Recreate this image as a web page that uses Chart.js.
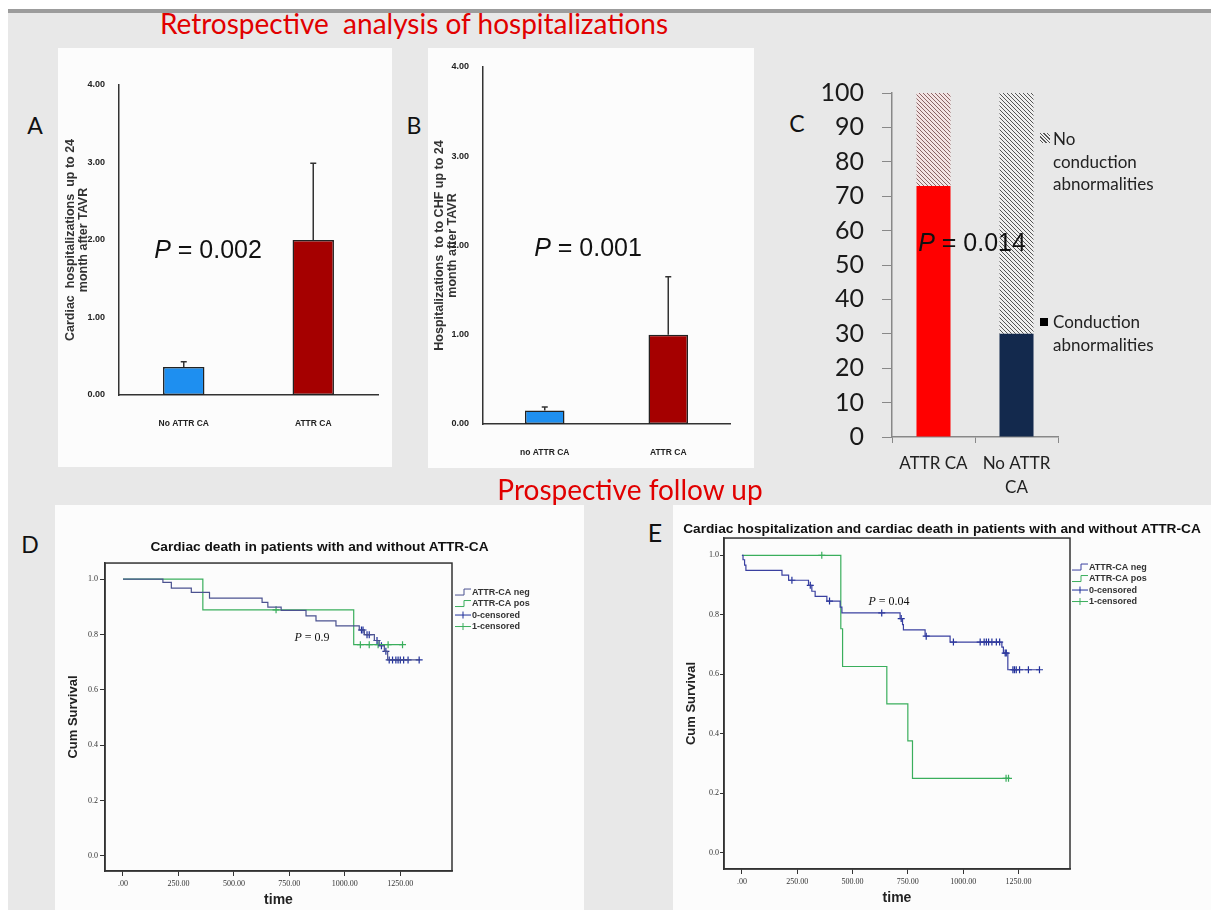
<!DOCTYPE html>
<html>
<head>
<meta charset="utf-8">
<script src="https://cdn.jsdelivr.net/npm/chart.js@4.4.1/dist/chart.umd.min.js"></script>
<style>
  body { margin: 0; background: #fff; }
  #page { position: relative; width: 1211px; height: 910px; overflow: hidden; background: #fff; }
  #bg { position: absolute; left: 8px; top: 9px; right: 0; bottom: 0; background: #e8e8e8; border-top: 4px solid #9c9c9c; }
  .panel { position: absolute; background: #fcfcfc; }
  canvas { position: absolute; }
  .t { position: absolute; white-space: pre; transform: translate(-50%, -50%); line-height: 1; }
  .red { color: #e10000; font-family: Lato, 'Open Sans', sans-serif; font-size: 28px; }
  .big { color: #111; font-family: Lato, sans-serif; font-size: 23px; }
  .pv { color: #111; font-family: 'Liberation Sans', Arial, sans-serif; font-size: 25px; }
  .pv i, .ps i { font-style: italic; }
  .ps { color: #111; font-family: 'Liberation Serif', serif; font-size: 12px; }
  .leg { position: absolute; font-family: Lato, sans-serif; font-size: 17px; line-height: 22.5px; color: #222; }
  .sw { position: absolute; }
</style>
</head>
<body>
<div id="page">
  <div id="bg"></div>
  <div class="panel" style="left:58px;top:48px;width:334px;height:419px"></div>
  <div class="panel" style="left:428px;top:48px;width:326px;height:420px"></div>
  <div class="panel" style="left:55px;top:505px;width:529px;height:405px"></div>
  <div class="panel" style="left:673px;top:505px;width:538px;height:405px"></div>

  <canvas id="cA" width="334" height="419" style="left:58px;top:48px"></canvas>
  <canvas id="cB" width="326" height="420" style="left:428px;top:48px"></canvas>
  <canvas id="cC" width="260" height="445" style="left:810px;top:60px"></canvas>
  <canvas id="cD" width="529" height="405" style="left:55px;top:505px"></canvas>
  <canvas id="cE" width="538" height="405" style="left:673px;top:505px"></canvas>

  <div class="t red" style="left:414px;top:23px">Retrospective  analysis of hospitalizations</div>
  <div class="t red" style="left:630px;top:489px">Prospective follow up</div>

  <div class="t big" style="left:35px;top:125px">A</div>
  <div class="t big" style="left:414px;top:125px">B</div>
  <div class="t big" style="left:797px;top:123px">C</div>
  <div class="t big" style="left:30px;top:544px">D</div>
  <div class="t big" style="left:655px;top:532px;font-size:25px">E</div>

  <div class="t pv" style="left:208px;top:249px"><i>P</i> = 0.002</div>
  <div class="t pv" style="left:588px;top:247px"><i>P</i> = 0.001</div>
  <div class="t pv" style="left:972px;top:242px"><i>P</i> = 0.014</div>
  <div class="t ps" style="left:312px;top:637px"><i>P</i> = 0.9</div>
  <div class="t ps" style="left:889px;top:601px"><i>P</i> = 0.04</div>

  <div class="sw" style="left:1040px;top:133px;width:10px;height:10px;background:repeating-linear-gradient(45deg,#eee 0 1.5px,#555 1.5px 2.5px)"></div>
  <div class="leg" style="left:1053px;top:128px">No<br>conduction<br>abnormalities</div>
  <div class="sw" style="left:1040px;top:318px;width:8px;height:8px;background:#000"></div>
  <div class="leg" style="left:1053px;top:311px">Conduction<br>abnormalities</div>
</div>

<script>
// retrospective bars (panel A and B)
const hospCats = ['No ATTR CA', 'ATTR CA'];
const hospMean = [0.36, 2.0];
const hospUpper = [0.43, 2.99];
const chfCats = ['no ATTR CA', 'ATTR CA'];
const chfMean = [0.15, 1.0];
const chfUpper = [0.19, 1.65];
const countTicks = [0, 1, 2, 3, 4];

// conduction abnormalities (panel C), percent
const condCats = ['ATTR CA', ['No ATTR', 'CA']];
const condYes = [73, 30];
const condNo = [27, 70];
const pctTicks = [0, 10, 20, 30, 40, 50, 60, 70, 80, 90, 100];

// Kaplan-Meier, cardiac death (panel D)
const dNegT = [0, 180, 218, 308, 390, 627, 653, 713, 825, 870, 960, 1065, 1088, 1133, 1155, 1178, 1193, 1335];
const dNegS = [1.0, 0.988, 0.967, 0.952, 0.931, 0.916, 0.899, 0.887, 0.867, 0.849, 0.831, 0.816, 0.799, 0.778, 0.759, 0.739, 0.708, 0.708];
const dNegCens = [1075, 1082, 1100, 1110, 1145, 1165, 1185, 1200, 1215, 1230, 1240, 1250, 1265, 1285, 1335];
const dPosT = [0, 360, 1040, 1260];
const dPosS = [1.0, 0.889, 0.763, 0.763];
const dPosCens = [690, 1070, 1110, 1150, 1195, 1260];

// Kaplan-Meier, cardiac hospitalization and death (panel E)
const eNegT = [0, 5, 12, 18, 181, 211, 301, 316, 331, 384, 444, 452, 715, 726, 730, 828, 941, 1175, 1182, 1202, 1345];
const eNegS = [1.0, 0.985, 0.967, 0.949, 0.933, 0.916, 0.899, 0.879, 0.862, 0.846, 0.826, 0.806, 0.787, 0.767, 0.749, 0.728, 0.708, 0.691, 0.671, 0.615, 0.615];
const eNegCens = [226, 309, 396, 632, 720, 833, 956, 1077, 1095, 1105, 1115, 1130, 1150, 1165, 1190, 1195, 1225, 1232, 1240, 1255, 1295, 1345];
const ePosT = [0, 447, 455, 655, 750, 771, 1212];
const ePosS = [1.0, 0.753, 0.626, 0.5, 0.376, 0.25, 0.25];
const ePosCens = [361, 1194, 1205];

const timeTicks = [0, 250, 500, 750, 1000, 1250];
const survTicks = [0, 0.2, 0.4, 0.6, 0.8, 1.0];

const NARROW = "'Liberation Sans Narrow', 'Liberation Sans', Arial, sans-serif";
const SANS = "'Liberation Sans', Arial, sans-serif";
const SERIF = "'Liberation Serif', 'DejaVu Serif', serif";

Chart.defaults.animation = false;
Chart.defaults.responsive = false;
Chart.defaults.plugins.legend.display = false;
Chart.defaults.plugins.tooltip.enabled = false;

const errBars = {
  id: 'errBars',
  afterDatasetsDraw(chart, args, opts) {
    const meta = chart.getDatasetMeta(0), y = chart.scales.y, ctx = chart.ctx;
    ctx.save();
    ctx.strokeStyle = '#333';
    ctx.lineWidth = 1.5;
    meta.data.forEach((bar, i) => {
      const top = y.getPixelForValue(opts.upper[i]);
      ctx.beginPath();
      ctx.moveTo(bar.x, bar.y);
      ctx.lineTo(bar.x, top);
      ctx.moveTo(bar.x - 3, top);
      ctx.lineTo(bar.x + 3, top);
      ctx.stroke();
    });
    ctx.restore();
  }
};

const frame = {
  id: 'frame',
  afterDraw(chart) {
    const a = chart.chartArea, ctx = chart.ctx;
    ctx.save();
    ctx.strokeStyle = '#333';
    ctx.lineWidth = 1.5;
    ctx.strokeRect(a.left, a.top, a.width, a.height);
    ctx.restore();
  }
};

const kmLegend = {
  id: 'kmLegend',
  afterDraw(chart, args, o) {
    const ctx = chart.ctx, a = chart.chartArea;
    let x = a.right + o.dx, y = a.top + o.dy;
    ctx.save();
    ctx.font = 'bold 9px ' + SANS;
    ctx.textBaseline = 'middle';
    chart.data.datasets.forEach(ds => {
      ctx.strokeStyle = ds.borderColor;
      ctx.lineWidth = 1;
      ctx.beginPath();
      if (ds.showLine === false) {
        ctx.moveTo(x, y); ctx.lineTo(x + 16, y);
        ctx.moveTo(x + 8, y - 3.5); ctx.lineTo(x + 8, y + 3.5);
      } else {
        ctx.moveTo(x, y + 3); ctx.lineTo(x + 9, y + 3);
        ctx.lineTo(x + 9, y - 3); ctx.lineTo(x + 16, y - 3);
      }
      ctx.stroke();
      ctx.fillStyle = '#333';
      ctx.fillText(ds.label, x + 17, y);
      y += 11.5;
    });
    ctx.restore();
  }
};

function fixTicks(list) {
  return scale => { scale.ticks = list.map(v => ({ value: v })); };
}

function barPanel(id, cats, mean, upper, title, pad, yW, xH, titlePad) {
  new Chart(document.getElementById(id), {
    type: 'bar',
    data: {
      labels: cats,
      datasets: [{
        data: mean,
        backgroundColor: ['#1e8ff0', '#a50000'],
        borderColor: '#222',
        borderWidth: 1.5,
        borderSkipped: false,
        barPercentage: 0.32,
        categoryPercentage: 1
      }]
    },
    options: {
      layout: { padding: pad },
      plugins: { errBars: { upper: upper } },
      scales: {
        x: {
          grid: { display: false },
          border: { color: '#333', width: 1.5 },
          ticks: { color: '#222', padding: 16, font: { family: NARROW, size: 8.5, weight: 'bold' } },
          afterFit: s => { s.height = xH; }
        },
        y: {
          min: 0, max: 4,
          afterBuildTicks: fixTicks(countTicks),
          grid: { display: false },
          border: { color: '#333', width: 1.5 },
          ticks: { color: '#222', padding: 6, font: { family: NARROW, size: 9, weight: 'bold' },
                   callback: v => v.toFixed(2) },
          title: { display: true, text: title, color: '#333',
                   font: { family: SANS, size: 12.5, weight: 'bold', lineHeight: 1.05 },
                   padding: { top: titlePad, bottom: 0 } },
          afterFit: s => { s.width = yW; }
        }
      }
    },
    plugins: [errBars]
  });
}

barPanel('cA', hospCats, hospMean, hospUpper,
  ['Cardiac  hospitalizations  up to 24', 'month after TAVR'],
  { top: 37, right: 14, left: 0, bottom: 0 }, 61, 72, 5.5);
barPanel('cB', chfCats, chfMean, chfUpper,
  ['Hospitalizations  to to CHF up to 24', 'month after TAVR'],
  { top: 19, right: 24, left: 0, bottom: 0 }, 55, 44, 4.5);

function hatch(bg, fg) {
  const c = document.createElement('canvas');
  c.width = 4; c.height = 4;
  const g = c.getContext('2d');
  g.fillStyle = bg; g.fillRect(0, 0, 4, 4);
  g.strokeStyle = fg; g.lineWidth = 1;
  g.beginPath();
  g.moveTo(-1, -1); g.lineTo(5, 5);
  g.moveTo(-1, 3); g.lineTo(1, 5);
  g.moveTo(3, -1); g.lineTo(5, 1);
  g.stroke();
  return g.createPattern(c, 'repeat');
}

new Chart(document.getElementById('cC'), {
  type: 'bar',
  data: {
    labels: condCats,
    datasets: [
      { label: 'Conduction abnormalities', data: condYes, backgroundColor: ['#ff0000', '#13294d'],
        barPercentage: 0.41, categoryPercentage: 1 },
      { label: 'No conduction abnormalities', data: condNo,
        backgroundColor: [hatch('#f4e4e4', '#8a6565'), hatch('#efefef', '#555555')],
        barPercentage: 0.41, categoryPercentage: 1 }
    ]
  },
  options: {
    layout: { padding: { top: 21, right: 12, left: 0, bottom: 0 } },
    scales: {
      x: {
        stacked: true,
        grid: { display: true, drawOnChartArea: false, tickLength: 6, color: '#888', offset: true },
        border: { color: '#888', width: 1.5 },
        ticks: { color: '#222', padding: 8, font: { family: 'Lato', size: 17, lineHeight: 1.45 } },
        afterFit: s => { s.height = 68; }
      },
      y: {
        stacked: true, min: 0, max: 100,
        afterBuildTicks: fixTicks(pctTicks),
        grid: { display: true, drawOnChartArea: false, tickLength: 10, color: '#888' },
        border: { color: '#888', width: 1.5 },
        ticks: { color: '#1a1a1a', padding: 18, font: { family: 'Lato', size: 25 } },
        afterFit: s => { s.width = 82; }
      }
    }
  }
});

function steps(t, s) {
  return t.map((x, i) => ({ x: x, y: s[i] }));
}
function survAt(t, s, x) {
  let v = s[0];
  for (let i = 0; i < t.length; i++) if (t[i] <= x) v = s[i];
  return v;
}
function marks(t, s, cens) {
  return cens.map(x => ({ x: x, y: survAt(t, s, x) }));
}

function kmPanel(id, title, negT, negS, negC, posT, posS, posC, negColor, cfg) {
  const green = '#3aae5c';
  new Chart(document.getElementById(id), {
    type: 'line',
    data: {
      datasets: [
        { label: 'ATTR-CA neg', data: steps(negT, negS), borderColor: negColor, borderWidth: 1.2,
          stepped: 'before', pointRadius: 0, fill: false },
        { label: 'ATTR-CA pos', data: steps(posT, posS), borderColor: green, borderWidth: 1.2,
          stepped: 'before', pointRadius: 0, fill: false },
        { label: '0-censored', data: marks(negT, negS, negC), showLine: false, borderColor: '#1f2f9a',
          pointStyle: 'cross', pointRadius: 3.5, pointBorderWidth: 1.2, pointBorderColor: '#1f2f9a' },
        { label: '1-censored', data: marks(posT, posS, posC), showLine: false, borderColor: green,
          pointStyle: 'cross', pointRadius: 3.5, pointBorderWidth: 1.2, pointBorderColor: green }
      ]
    },
    options: {
      layout: { padding: 0 },
      plugins: {
        title: { display: true, text: title, color: '#111',
                 font: { family: SANS, size: 13.7, weight: 'bold', lineHeight: 1.2 },
                 padding: { top: cfg.titleTop, bottom: cfg.titleBottom } },
        kmLegend: { dx: cfg.legDx, dy: 29 }
      },
      scales: {
        x: {
          type: 'linear', min: -81, max: 1483,
          afterBuildTicks: fixTicks(timeTicks),
          grid: { display: true, drawOnChartArea: false, tickLength: 5, color: '#333' },
          border: { color: '#333', width: 1.5 },
          ticks: { color: '#333', padding: 3, font: { family: SERIF, size: 8 },
                   callback: v => v === 0 ? '.00' : v.toFixed(2) },
          title: { display: true, text: 'time', color: '#222',
                   font: { family: SANS, size: 14, weight: 'bold' },
                   padding: { top: 0, bottom: cfg.timePad } },
          afterFit: s => { s.height = cfg.xH; }
        },
        y: {
          min: -0.055, max: 1.058,
          afterBuildTicks: fixTicks(survTicks),
          grid: { display: true, drawOnChartArea: false, tickLength: cfg.yTick, color: '#333' },
          border: { color: '#333', width: 1.5 },
          ticks: { color: '#333', padding: cfg.yPad, font: { family: SERIF, size: 8 },
                   callback: v => v.toFixed(1) },
          title: { display: true, text: 'Cum Survival', color: '#222',
                   font: { family: SANS, size: 13, weight: 'bold', lineHeight: 1.2 },
                   padding: { top: cfg.cumPad, bottom: 0 } },
          afterFit: s => { s.width = cfg.yW; }
        },
        // empty right-hand strip that leaves room for the legend
        side: {
          type: 'linear', position: 'right', display: true,
          grid: { display: false }, border: { display: false }, ticks: { display: false },
          afterFit: s => { s.width = cfg.right; }
        }
      }
    },
    plugins: [frame, kmLegend]
  });
}

kmPanel('cD', 'Cardiac death in patients with and without ATTR-CA',
  dNegT, dNegS, dNegCens, dPosT, dPosS, dPosCens, '#4b5290',
  { right: 132, titleTop: 34, titleBottom: 7.6, legDx: 3, xH: 39, yW: 50, timePad: 1,
    yTick: 5, yPad: 2, cumPad: 11 });
kmPanel('cE', 'Cardiac hospitalization and cardiac death in patients with and without ATTR-CA',
  eNegT, eNegS, eNegCens, ePosT, ePosS, ePosCens, '#3a40a0',
  { right: 141, titleTop: 16, titleBottom: 0.6, legDx: 2, xH: 41, yW: 51, timePad: 3.6,
    yTick: 4, yPad: 1, cumPad: 11 });
</script>
</body>
</html>
